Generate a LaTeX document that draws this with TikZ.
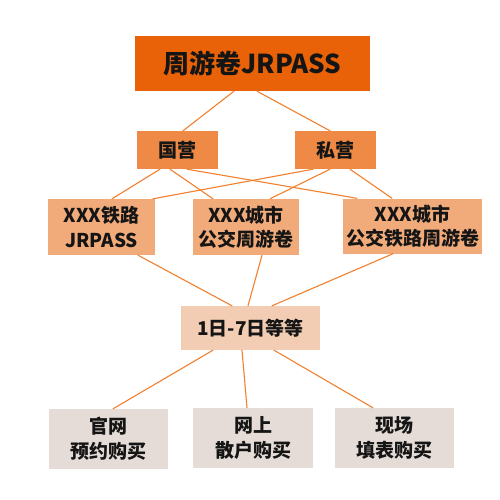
\documentclass[tikz,border=0pt]{standalone}
\usepackage{fontspec}
\newfontfamily\cjk{Noto Sans CJK SC}
\usetikzlibrary{positioning}
\definecolor{topfill}{HTML}{E96208}
\definecolor{kindfill}{HTML}{EE8A45}
\definecolor{passfill}{HTML}{F1AB7A}
\definecolor{dayfill}{HTML}{F2CDB3}
\definecolor{buyfill}{HTML}{E5DCD7}
\definecolor{link}{HTML}{F2802E}
\definecolor{ink}{HTML}{151515}

\begin{document}
\begin{tikzpicture}[x=1pt,y=-1pt,line cap=round,line join=round,
  box/.style={inner sep=0pt,align=center,text=ink,font=\cjk\bfseries\fontsize{19}{24.5}\selectfont},
  wire/.style={link,line width=1.1pt}]
  \useasboundingbox[fill=white] (0,0) rectangle (500,500);

  % ---- level 1 ----
  \node[box,fill=topfill,minimum width=235pt,minimum height=55pt,font=\cjk\bfseries\fontsize{26}{30}\selectfont] (pass) at (252.5,63.5) {周游卷JRPASS};

  % ---- level 2: operators ----
  \node[box,fill=kindfill,minimum width=81pt,minimum height=38pt] (state) at (177.5,150) {国营};
  \node[box,fill=kindfill,minimum width=81pt,minimum height=38pt] (private) at (335.5,150) {私营};

  % ---- level 3: pass kinds ----
  \node[box,fill=passfill,minimum width=107pt,minimum height=56pt] (rail) at (101.5,227) {XXX铁路\\JRPASS};
  \node[box,fill=passfill,minimum width=106pt,minimum height=56pt] (bus) at (246,227) {XXX城市\\公交周游卷};
  \node[box,fill=passfill,minimum width=139pt,minimum height=55pt] (busrail) at (412.5,226) {XXX城市\\公交铁路周游卷};

  % ---- level 4: duration ----
  \node[box,fill=dayfill,minimum width=139pt,minimum height=44pt] (days) at (250.5,328) {1日-7日等等};

  % ---- level 5: how to buy ----
  \node[box,fill=buyfill,minimum width=119pt,minimum height=60pt] (web) at (108.5,439) {官网\\预约购买};
  \node[box,fill=buyfill,minimum width=120pt,minimum height=60pt] (online) at (253,438) {网上\\散户购买};
  \node[box,fill=buyfill,minimum width=119pt,minimum height=60pt] (onsite) at (394.5,438) {现场\\填表购买};

  % ---- connectors ----
  \draw[wire] ([xshift=-18.5pt]pass.south) -- ([xshift=5.5pt]state.north);
  \draw[wire] ([xshift=4.5pt]pass.south) -- ([xshift=-5.5pt]private.north);

  \draw[wire] ([xshift=-17.5pt]state.south) -- ([xshift=10.5pt]rail.north);
  \draw[wire] ([xshift=-7.5pt]state.south) -- ([xshift=-33pt]bus.north);
  \draw[wire] ([xshift=9.5pt]state.south) -- ([xshift=-55.5pt]busrail.north);
  \draw[wire] ([xshift=-22.5pt]private.south) -- ([xshift=51.5pt]rail.north);
  \draw[wire] ([xshift=-5.5pt]private.south) -- ([xshift=24pt]bus.north);
  \draw[wire] ([xshift=14.5pt]private.south) -- ([xshift=-20.5pt]busrail.north);

  \draw[wire] ([xshift=36.5pt]rail.south) -- ([xshift=-18.5pt]days.north);
  \draw[wire] ([xshift=16pt]bus.south) -- ([xshift=-2.5pt]days.north);
  \draw[wire] ([xshift=-19.5pt]busrail.south) -- ([xshift=21.5pt]days.north);

  \draw[wire] ([xshift=-37.5pt]days.south) -- ([xshift=4.5pt]web.north);
  \draw[wire] ([xshift=-8.5pt]days.south) -- ([xshift=-6pt]online.north);
  \draw[wire] ([xshift=23.5pt]days.south) -- ([xshift=-21.5pt]onsite.north);
\end{tikzpicture}
\end{document}
